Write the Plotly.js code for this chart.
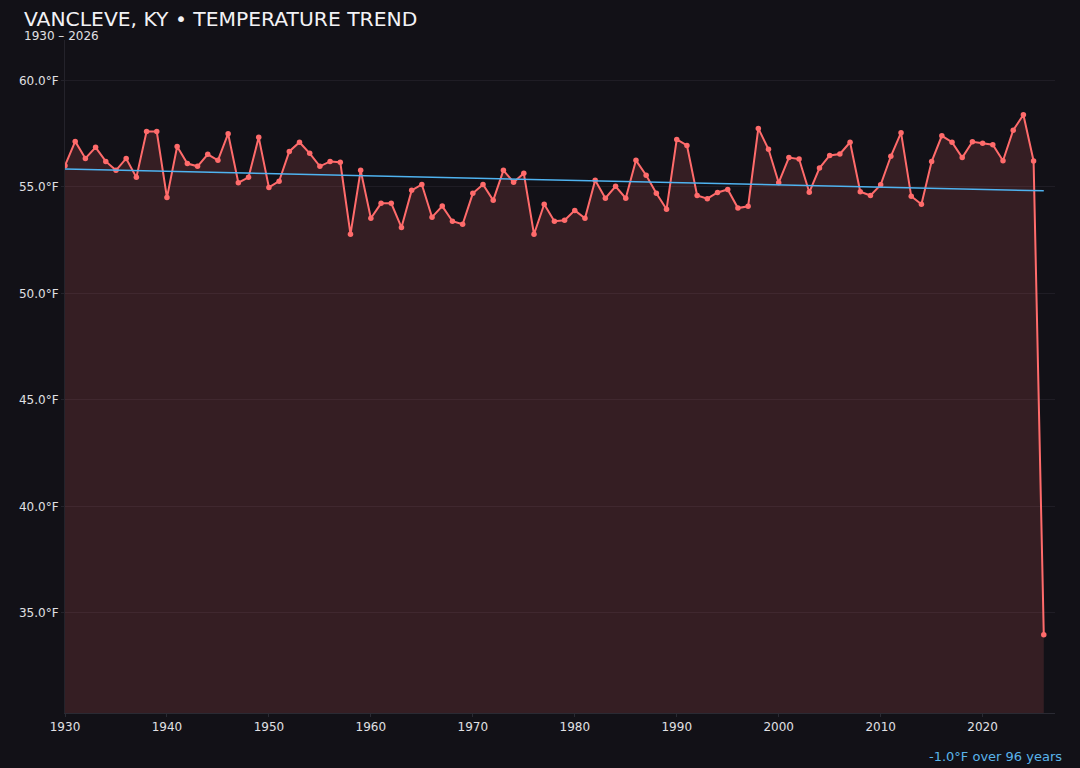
<!DOCTYPE html>
<html>
<head>
<meta charset="utf-8">
<script src="https://cdn.plot.ly/plotly-3.0.1.min.js"></script>
<style>html,body{margin:0;padding:0;background:#121117;}#chart{width:1080px;height:768px;}</style>
</head>
<body>
<div id="chart"></div>
<script>
const years = [];
for (let y = 1930; y <= 2026; y++) years.push(y);

const temps = [
  56.0, 57.14, 56.34, 56.86, 56.2, 55.78, 56.34, 55.45, 57.6, 57.6,
  54.5, 56.9, 56.1, 55.97, 56.53, 56.25, 57.5, 55.2, 55.45, 57.33,
  54.98, 55.27, 56.67, 57.1, 56.58, 55.97, 56.2, 56.16, 52.78, 55.78,
  53.53, 54.23, 54.23, 53.1, 54.84, 55.12, 53.58, 54.1, 53.39, 53.25,
  54.7, 55.12, 54.37, 55.78, 55.22, 55.64, 52.78, 54.19, 53.39, 53.44,
  53.9, 53.53, 55.31, 54.47, 55.03, 54.47, 56.25, 55.55, 54.7, 53.95,
  57.23, 56.95, 54.6, 54.45, 54.74, 54.88, 54.01, 54.09, 57.75, 56.77,
  55.2, 56.38, 56.31, 54.75, 55.89, 56.48, 56.55, 57.1, 54.78, 54.6,
  55.1, 56.44, 57.55, 54.56, 54.19, 56.19, 57.4, 57.1, 56.38, 57.12,
  57.05, 56.98, 56.23, 57.66, 58.39, 56.22, 33.98
];

const trendYears = [1930, 2026];
const trendValues = [55.84, 54.82];

const titleText = "VANCLEVE, KY • TEMPERATURE TREND";
const subtitleText = "1930 – 2026";
const trendLabel = "-1.0°F over 96 years";
const xTicks = [1930, 1940, 1950, 1960, 1970, 1980, 1990, 2000, 2010, 2020];
const yTicks = [35, 40, 45, 50, 55, 60];
const yTickLabels = ["35.0°F", "40.0°F", "45.0°F", "50.0°F", "55.0°F", "60.0°F"];

const font = "DejaVu Sans, sans-serif";

const traces = [
  {
    x: years, y: temps, type: 'scatter', mode: 'lines+markers',
    fill: 'tozeroy', fillcolor: 'rgba(255,107,107,0.15)',
    line: {color: '#ff6b6b', width: 2},
    marker: {color: '#ff6b6b', size: 5.5},
    hoverinfo: 'x+y', showlegend: false
  },
  {
    x: trendYears, y: trendValues, type: 'scatter', mode: 'lines',
    line: {color: '#4fb3f0', width: 1.5},
    hoverinfo: 'skip', showlegend: false
  }
];

const layout = {
  width: 1080, height: 768,
  paper_bgcolor: '#121117', plot_bgcolor: '#121117',
  margin: {l: 65, r: 25, t: 40, b: 55},
  font: {family: font, color: '#e0e0e4', size: 12},
  title: {
    text: titleText, x: 24/1080, xanchor: 'left', xref: 'container',
    y: 1 - 19/768, yanchor: 'middle', yref: 'container',
    font: {family: font, size: 20.3, color: '#f2f2f5'}
  },
  xaxis: {
    range: [1930, 2027.1], tickmode: 'array', tickvals: xTicks, ticktext: xTicks.map(String),
    showgrid: false,
    zeroline: false, showline: true, linecolor: '#2a2a33', linewidth: 1,
    ticks: 'outside', ticklen: 3, tickcolor: '#2a2a33',
    tickfont: {family: font, size: 12, color: '#e0e0e4'}
  },
  yaxis: {
    range: [30.3, 61.9], tickmode: 'array', tickvals: yTicks, ticktext: yTickLabels,
    showgrid: true, gridcolor: '#1f1d25', gridwidth: 1,
    zeroline: false, showline: true, linecolor: '#24232b', linewidth: 1,
    ticks: 'outside', ticklen: 3, tickcolor: '#24232b',
    tickfont: {family: font, size: 12, color: '#e0e0e4'}
  },
  annotations: [
    {
      text: subtitleText, xref: 'paper', yref: 'paper',
      x: (22 - 65) / 990, y: 1 + 4 / 673, xanchor: 'left', yanchor: 'middle',
      showarrow: false, font: {family: font, size: 12, color: '#e0e0e4'}
    },
    {
      text: trendLabel, xref: 'paper', yref: 'paper',
      x: (1064 - 65) / 990, y: -(756 - 713) / 673, xanchor: 'right', yanchor: 'middle',
      showarrow: false, font: {family: font, size: 13, color: '#5ab4ea'}
    }
  ]
};

Plotly.newPlot('chart', traces, layout, {displayModeBar: false, staticPlot: true});
</script>
</body>
</html>
